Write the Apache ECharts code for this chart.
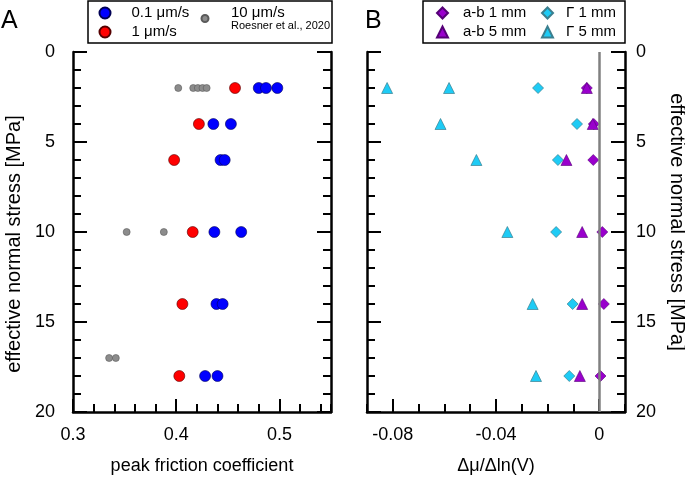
<!DOCTYPE html>
<html>
<head>
<meta charset="utf-8">
<script src="https://cdn.jsdelivr.net/npm/echarts@6/dist/echarts.min.js"></script>
<style>
html,body{margin:0;padding:0;background:#fff;}
#chart{width:685px;height:480px;}
</style>
</head>
<body>
<div id="chart"></div>
<script>
// ---------- Panel A data (peak friction coefficient vs effective normal stress) ----------
const stressA01 = [2, 2, 2, 4, 4, 6, 6, 10, 10, 14, 14, 18, 18];
const muA01     = [0.480, 0.487, 0.498, 0.436, 0.453, 0.443, 0.447, 0.437, 0.463, 0.439, 0.445, 0.428, 0.440];
const stressA1  = [2, 4, 6, 10, 14, 18];
const muA1      = [0.457, 0.422, 0.398, 0.416, 0.406, 0.403];
const stressA10 = [2, 2, 2, 2, 2, 10, 10, 17, 17];
const muA10     = [0.402, 0.4165, 0.421, 0.4255, 0.4295, 0.352, 0.388, 0.335, 0.3415];

// ---------- Panel B data (Δμ/Δln(V) vs effective normal stress) ----------
const stressB   = [2, 4, 6, 10, 14, 18];
const ab1mm     = [-0.0048, -0.0021, -0.0023, 0.0012, 0.0018, 0.0005];
const ab5mm     = [-0.0048, -0.0025, -0.0127, -0.0066, -0.0066, -0.0075];
const gam1mm    = [-0.0237, -0.0086, -0.0160, -0.0167, -0.0103, -0.0116];
const stressG5  = [2, 2, 4, 6, 10, 14, 18];
const gam5mm    = [-0.0822, -0.0582, -0.0615, -0.0476, -0.0356, -0.0258, -0.0245];

// ---------- Names & ticks ----------
const namesA = ['0.1 μm/s', '1 μm/s', '10 μm/s'];
const refNote = 'Roesner et al., 2020';
const namesB = ['a-b 1 mm', 'a-b 5 mm', 'Γ 1 mm', 'Γ 5 mm'];
const xLabelsA = [0.3, 0.4, 0.5];
const xLabelsB = [-0.08, -0.04, 0];
const yRange = [0, 20];
const xRangeA = [0.3, 0.55];
const xRangeB = [-0.09, 0.01];

const zip = (xs, ys) => xs.map((x, i) => [x, ys[i]]);

const FONT = "'Liberation Sans', Arial, sans-serif";
const BLK = '#000';

const chart = echarts.init(document.getElementById('chart'), null, {renderer: 'canvas'});

function yAx(grid, pos, showLabel) {
  return {
    type: 'value', gridIndex: grid, position: pos, inverse: true,
    min: yRange[0], max: yRange[1], interval: 5,
    axisLine: {show: true, onZero: false, lineStyle: {color: BLK, width: 2.5}},
    axisTick: {show: true, inside: true, length: 14, lineStyle: {color: BLK, width: 2}},
    minorTick: {show: true, splitNumber: 5, length: 8, lineStyle: {color: BLK, width: 2}},
    axisLabel: {show: showLabel, margin: pos === 'left' ? 18 : 11, color: BLK, fontSize: 18, fontFamily: FONT},
    splitLine: {show: false}
  };
}

const option = {
  animation: false,
  backgroundColor: '#fff',
  textStyle: {fontFamily: FONT},
  grid: [
    {left: 73, top: 52, width: 258, height: 360, outerBoundsMode: 'none'},
    {left: 367, top: 52, width: 258, height: 360, outerBoundsMode: 'none'}
  ],
  xAxis: [
    { // A major + labels
      type: 'value', gridIndex: 0, position: 'bottom', min: xRangeA[0], max: xRangeA[1], interval: 0.1,
      name: 'peak friction coefficient', nameLocation: 'middle', nameGap: 45,
      nameTextStyle: {color: BLK, fontSize: 18, fontFamily: FONT},
      axisLine: {show: true, onZero: false, lineStyle: {color: BLK, width: 2.5}},
      axisTick: {show: true, inside: true, length: 13, customValues: xLabelsA, lineStyle: {color: BLK, width: 2}},
      axisLabel: {show: true, margin: 14, customValues: xLabelsA, color: BLK, fontSize: 18, fontFamily: FONT},
      splitLine: {show: false}
    },
    { // A minor ticks
      type: 'value', gridIndex: 0, position: 'bottom', min: xRangeA[0], max: xRangeA[1], interval: 0.02,
      axisLine: {show: false, onZero: false},
      axisTick: {show: true, inside: true, length: 8, lineStyle: {color: BLK, width: 2}},
      axisLabel: {show: false}, splitLine: {show: false}
    },
    { // B major + labels
      type: 'value', gridIndex: 1, position: 'bottom', min: xRangeB[0], max: xRangeB[1], interval: 0.01,
      name: 'Δμ/Δln(V)', nameLocation: 'middle', nameGap: 45,
      nameTextStyle: {color: BLK, fontSize: 18, fontFamily: FONT},
      axisLine: {show: true, onZero: false, lineStyle: {color: BLK, width: 2.5}},
      axisTick: {show: true, inside: true, length: 13, customValues: xLabelsB, lineStyle: {color: BLK, width: 2}},
      axisLabel: {show: true, margin: 14, customValues: xLabelsB, color: BLK, fontSize: 18, fontFamily: FONT},
      splitLine: {show: false}
    },
    { // B minor ticks
      type: 'value', gridIndex: 1, position: 'bottom', min: xRangeB[0], max: xRangeB[1], interval: 0.01,
      axisLine: {show: false, onZero: false},
      axisTick: {show: true, inside: true, length: 8, lineStyle: {color: BLK, width: 2}},
      axisLabel: {show: false}, splitLine: {show: false}
    }
  ],
  yAxis: [
    yAx(0, 'left', true),
    yAx(0, 'right', false),
    yAx(1, 'left', false),
    yAx(1, 'right', true)
  ],
  legend: [
    {
      data: namesA.slice(0, 2), orient: 'vertical', left: 98.5, top: 5.5, padding: 0,
      itemWidth: 11, itemHeight: 11, itemGap: 4, selectedMode: false,
      textStyle: {color: BLK, fontSize: 15, fontFamily: FONT, padding: [0, 0, 0, 16]}
    },
    {
      data: [namesA[2]], orient: 'vertical', left: 200.5, top: 5.5, padding: 0,
      itemWidth: 7, itemHeight: 7, selectedMode: false,
      formatter: n => n + '\n{s|' + refNote + '}',
      textStyle: {color: BLK, fontSize: 15, fontFamily: FONT, padding: [0, 0, 0, 17.5],
        rich: {s: {fontSize: 11, color: BLK, fontFamily: FONT}}}
    },
    {
      data: namesB.slice(0, 2), orient: 'vertical', left: 436, top: 5.5, padding: 0,
      itemWidth: 11, itemHeight: 11, itemGap: 4, selectedMode: false,
      textStyle: {color: BLK, fontSize: 15, fontFamily: FONT, padding: [0, 0, 0, 10]}
    },
    {
      data: namesB.slice(2, 4), orient: 'vertical', left: 541, top: 5.5, padding: 0,
      itemWidth: 11, itemHeight: 11, itemGap: 4, selectedMode: false,
      textStyle: {color: BLK, fontSize: 15, fontFamily: FONT, padding: [0, 0, 0, 8]}
    }
  ],
  graphic: [
    {type: 'rect', shape: {x: 88, y: 1, width: 244, height: 42}, style: {fill: 'none', stroke: BLK, lineWidth: 1.5}},
    {type: 'rect', shape: {x: 423, y: 1, width: 202, height: 42}, style: {fill: 'none', stroke: BLK, lineWidth: 1.5}},
    {type: 'text', x: 1, y: 21, style: {text: 'A', font: '25px ' + FONT, fill: BLK, textAlign: 'left', textVerticalAlign: 'middle'}},
    {type: 'text', x: 365, y: 21, style: {text: 'B', font: '25px ' + FONT, fill: BLK, textAlign: 'left', textVerticalAlign: 'middle'}},
    {type: 'text', x: 14, y: 244, rotation: Math.PI / 2,
      style: {text: 'effective normal stress [MPa]', font: '20px ' + FONT, fill: BLK, textAlign: 'center', textVerticalAlign: 'middle'}},
    {type: 'text', x: 677, y: 222, rotation: -Math.PI / 2,
      style: {text: 'effective normal stress [MPa]', font: '20px ' + FONT, fill: BLK, textAlign: 'center', textVerticalAlign: 'middle'}}
  ],
  series: [
    {
      name: namesA[2], type: 'scatter', xAxisIndex: 0, yAxisIndex: 0, z: 3,
      symbol: 'circle', symbolSize: 7, data: zip(muA10, stressA10),
      itemStyle: {color: '#8c8c8c', borderColor: '#5a5a5a', borderWidth: 0.6, opacity: 1}
    },
    {
      name: namesA[1], type: 'scatter', xAxisIndex: 0, yAxisIndex: 0, z: 3,
      symbol: 'circle', symbolSize: 11, data: zip(muA1, stressA1),
      itemStyle: {color: '#ff0000', borderColor: '#550000', borderWidth: 0.6, opacity: 1}
    },
    {
      name: namesA[0], type: 'scatter', xAxisIndex: 0, yAxisIndex: 0, z: 3,
      symbol: 'circle', symbolSize: 11, data: zip(muA01, stressA01),
      itemStyle: {color: '#0000ff', borderColor: '#000055', borderWidth: 0.6, opacity: 1}
    },
    { // zero reference line in B
      type: 'scatter', xAxisIndex: 2, yAxisIndex: 2, data: [], z: 2, silent: true,
      markLine: {
        silent: true, symbol: ['none', 'none'], label: {show: false},
        lineStyle: {color: '#808080', width: 2.5, type: 'solid'},
        data: [{xAxis: 0}]
      }
    },
    {
      name: namesB[3], type: 'scatter', xAxisIndex: 2, yAxisIndex: 2, z: 3,
      symbol: 'triangle', symbolSize: 11, data: zip(gam5mm, stressG5),
      itemStyle: {color: '#1ecbf5', borderColor: '#3b7f8f', borderWidth: 0.7, opacity: 1}
    },
    {
      name: namesB[2], type: 'scatter', xAxisIndex: 2, yAxisIndex: 2, z: 3,
      symbol: 'diamond', symbolSize: 11, data: zip(gam1mm, stressB),
      itemStyle: {color: '#1ecbf5', borderColor: '#3b7f8f', borderWidth: 0.7, opacity: 1}
    },
    {
      name: namesB[0], type: 'scatter', xAxisIndex: 2, yAxisIndex: 2, z: 3,
      symbol: 'diamond', symbolSize: 11, data: zip(ab1mm, stressB),
      itemStyle: {color: '#9900cc', borderColor: '#550077', borderWidth: 0.6, opacity: 1}
    },
    {
      name: namesB[1], type: 'scatter', xAxisIndex: 2, yAxisIndex: 2, z: 3,
      symbol: 'triangle', symbolSize: 11, data: zip(ab5mm, stressB),
      itemStyle: {color: '#9900cc', borderColor: '#550077', borderWidth: 0.6, opacity: 1}
    }
  ]
};
chart.setOption(option);
</script>
</body>
</html>
